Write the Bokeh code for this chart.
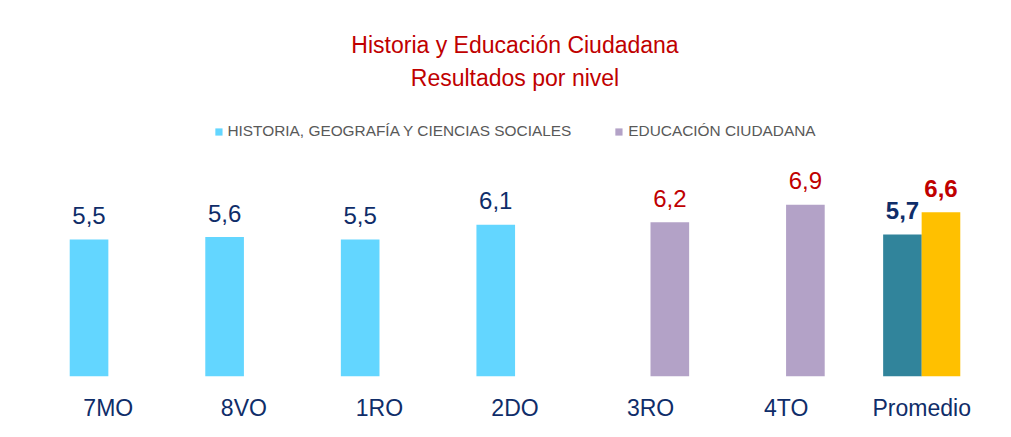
from bokeh.plotting import figure
from bokeh.models import ColumnDataSource, Legend, LegendItem, Title, FactorRange
from bokeh.transform import dodge
from bokeh.core.properties import value
from bokeh.embed import file_html
from bokeh.resources import INLINE

categories = ["7MO", "8VO", "1RO", "2DO", "3RO", "4TO", "Promedio"]
historia_levels = ["7MO", "8VO", "1RO", "2DO"]
historia_values = [5.5, 5.6, 5.5, 6.1]
educacion_levels = ["3RO", "4TO"]
educacion_values = [6.2, 6.9]
promedio_level = "Promedio"
promedio_historia = 5.7
promedio_educacion = 6.6

series_names = ["HISTORIA, GEOGRAFÍA Y CIENCIAS SOCIALES", "EDUCACIÓN CIUDADANA"]
title_main = "Historia y Educación Ciudadana"
title_sub = "Resultados por nivel"

FONT = "'Liberation Sans', Arial, sans-serif"
NAVY = "#0F2D69"
RED = "#C00000"
C_HIST = "#63D6FF"
C_EDU = "#B3A2C7"
C_PH = "#31849B"
C_PE = "#FFC000"
OFF = 0.142
BW = 0.285


def fmt(v):
    return f"{v:.1f}".replace(".", ",")


def src(levels, vals):
    return ColumnDataSource(dict(cat=levels, val=vals, lab=[fmt(v) for v in vals]))


p = figure(
    width=1003, height=429,
    x_range=FactorRange(*categories, range_padding=0),
    y_range=(0, 11.49),
    output_backend="svg", toolbar_location=None,
    min_border_left=40, min_border_right=14,
    min_border_top=90, min_border_bottom=53,
)
p.outline_line_color = None
p.xgrid.grid_line_color = None
p.ygrid.grid_line_color = None
p.yaxis.visible = False

src_h = src(historia_levels, historia_values)
src_e = src(educacion_levels, educacion_values)
src_ph = src([promedio_level], [promedio_historia])
src_pe = src([promedio_level], [promedio_educacion])

xl = dodge("cat", -OFF, range=p.x_range)
xr = dodge("cat", OFF, range=p.x_range)

rh = p.vbar(x=xl, top="val", width=BW, bottom=0, source=src_h, color=C_HIST, line_color=None)
re_ = p.vbar(x=xr, top="val", width=BW, bottom=0, source=src_e, color=C_EDU, line_color=None)
p.vbar(x=xl, top="val", width=BW, bottom=0, source=src_ph, color=C_PH, line_color=None)
p.vbar(x=xr, top="val", width=BW, bottom=0, source=src_pe, color=C_PE, line_color=None)

LBL = dict(text_font=value(FONT), text_font_size="24px", text_align="center",
           text_baseline="alphabetic", y_offset=-24)
p.text(x=xl, y="val", text="lab", source=src_h, text_color=NAVY, **LBL)
p.text(x=xr, y="val", text="lab", source=src_e, text_color=RED, **LBL)
p.text(x=xl, y="val", text="lab", source=src_ph, text_color=NAVY, text_font_style="bold", **LBL)
p.text(x=xr, y="val", text="lab", source=src_pe, text_color=RED, text_font_style="bold", **LBL)

ax = p.xaxis[0]
ax.axis_line_color = None
ax.major_tick_line_color = None
ax.minor_tick_line_color = None
ax.major_label_text_font = FONT
ax.major_label_text_font_size = "23px"
ax.major_label_text_color = NAVY
ax.major_label_standoff = 12

legend = Legend(items=[LegendItem(label=series_names[0], renderers=[rh]),
                       LegendItem(label=series_names[1], renderers=[re_])],
                orientation="horizontal", location="top_center",
                label_text_font=FONT, label_text_font_size="15.4px",
                label_text_color="#595959",
                glyph_width=9, glyph_height=9, label_standoff=5, spacing=43,
                padding=0, margin=32, border_line_color=None,
                background_fill_alpha=0)
p.add_layout(legend, "center")

sub = Title(text=title_sub, align="center", text_font=FONT, text_font_size="23px",
            text_color=RED, text_font_style="normal", vertical_align="bottom", standoff=0)
main = Title(text=title_main, align="center", text_font=FONT, text_font_size="23px",
             text_color=RED, text_font_style="normal", vertical_align="bottom", standoff=10)
p.add_layout(sub, "above")
p.add_layout(main, "above")

open("out.html", "w").write(file_html(p, INLINE))
